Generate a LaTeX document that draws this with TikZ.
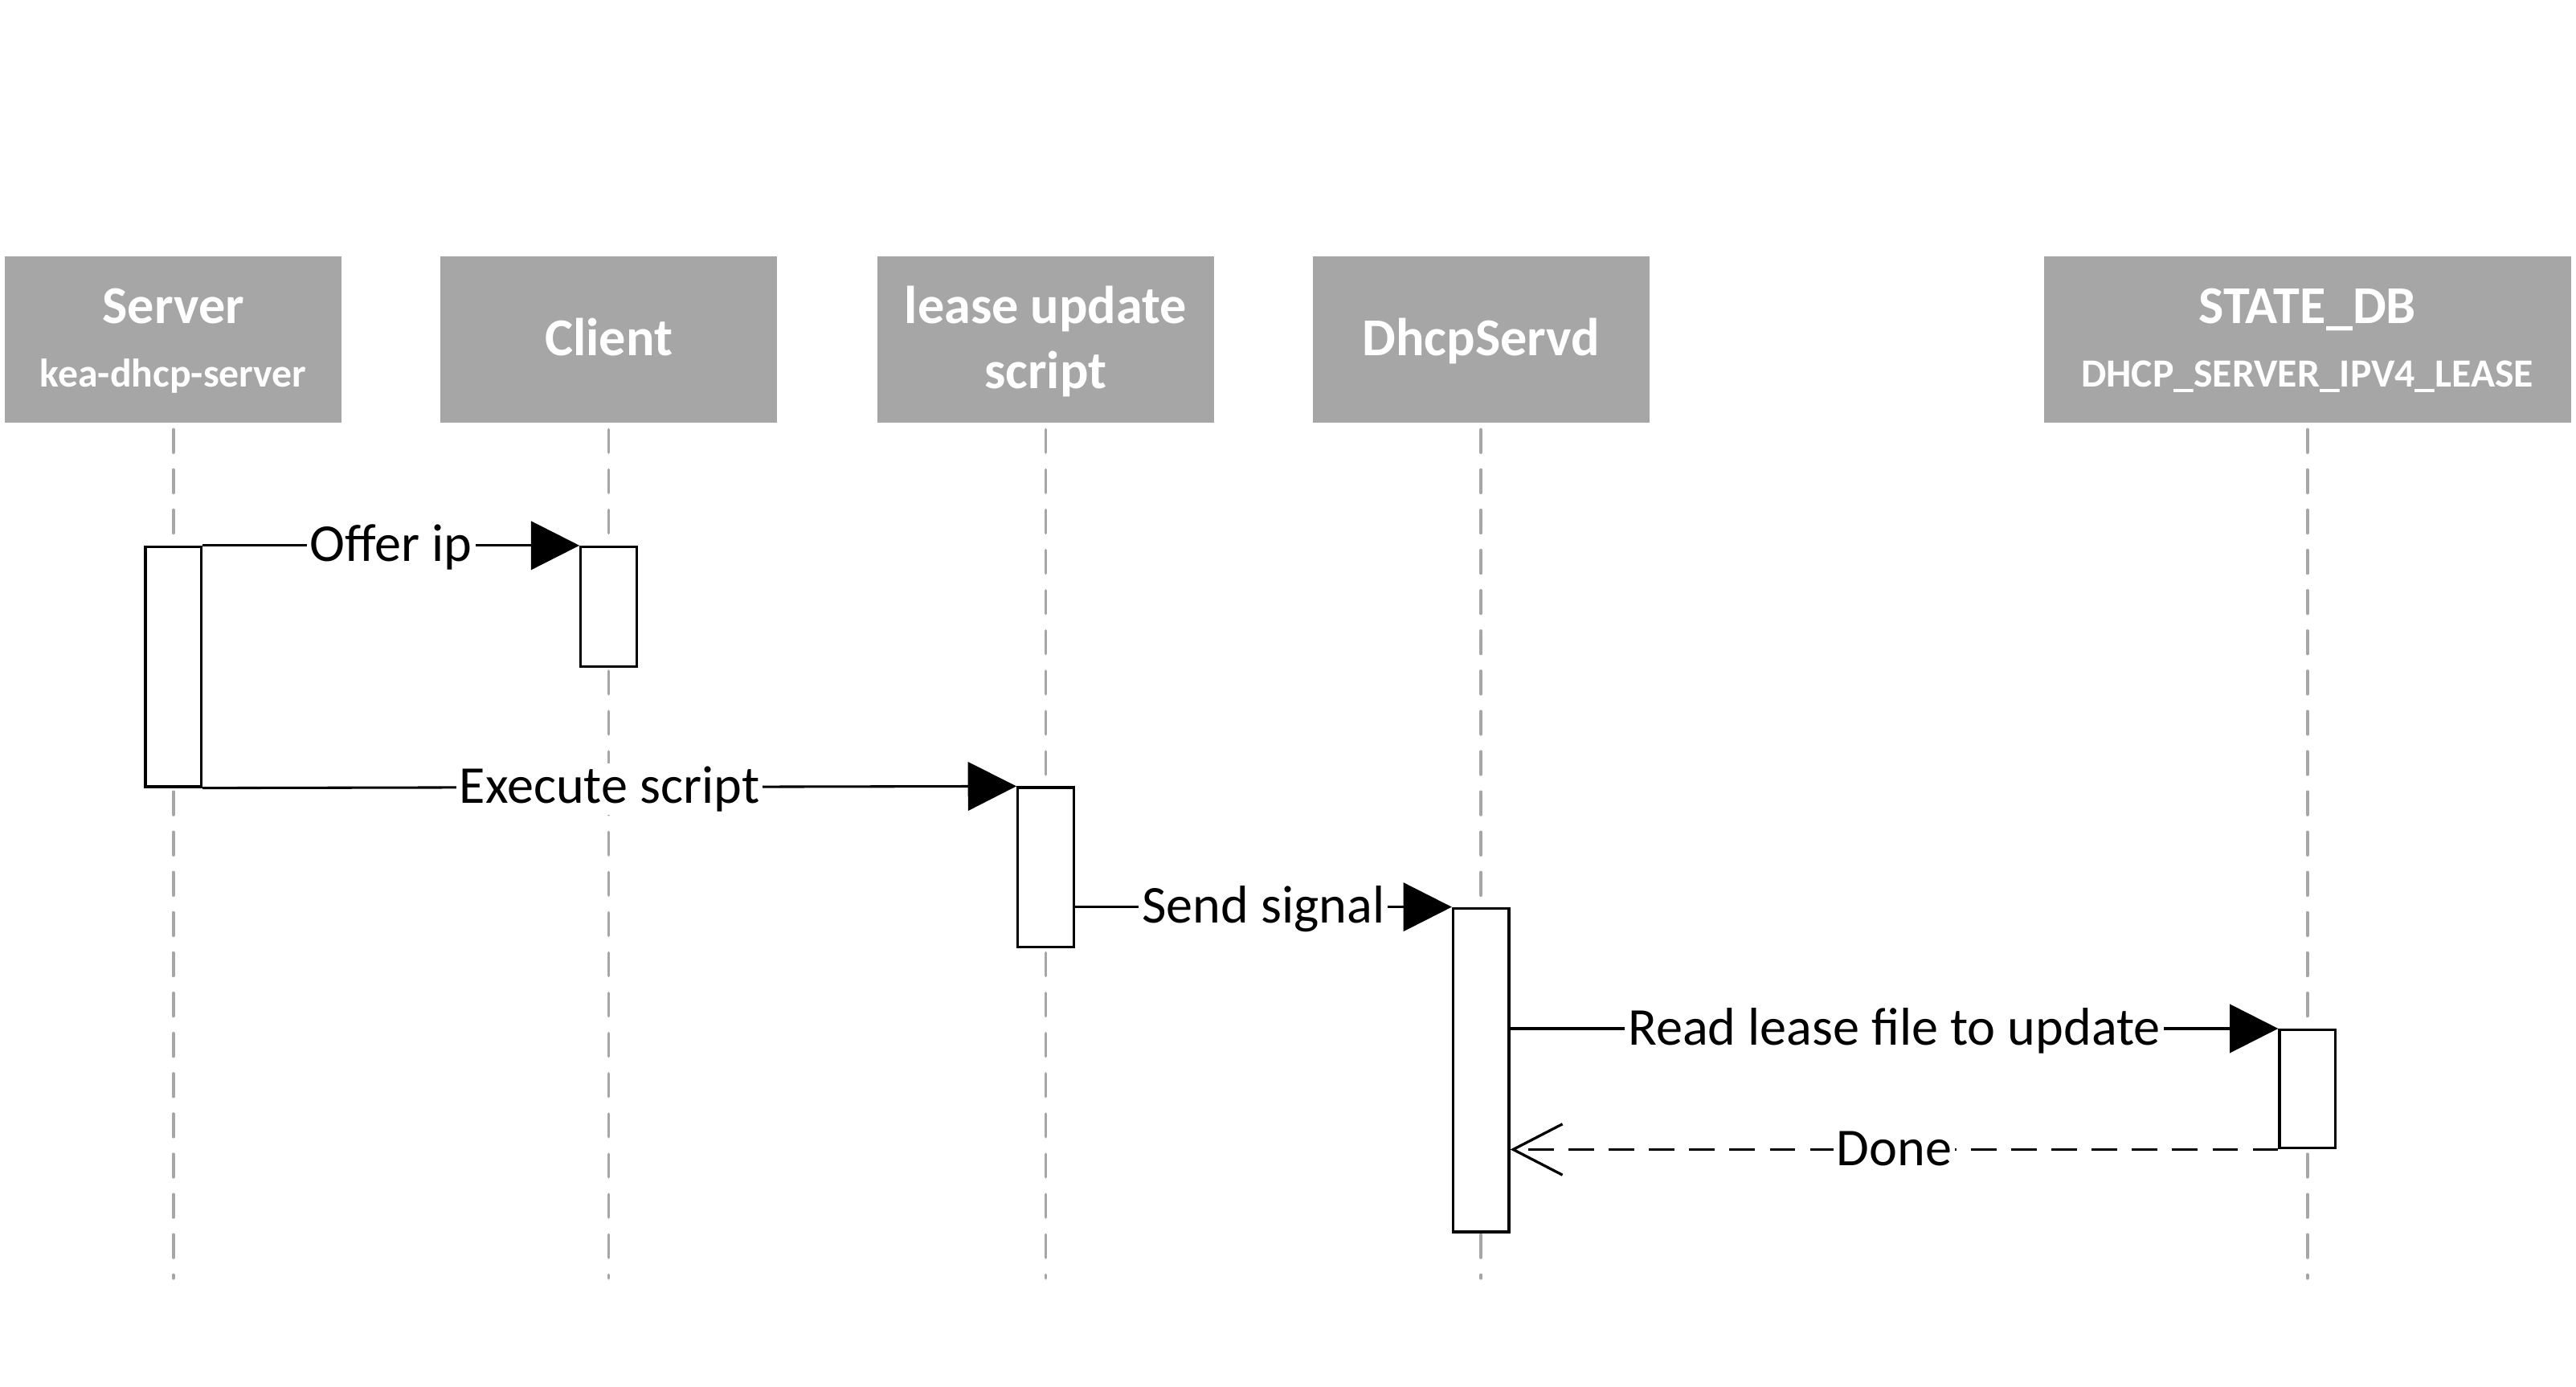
\documentclass[tikz,border=0pt]{standalone}
\usepackage{fontspec}
\setmainfont{Carlito}
\usetikzlibrary{arrows.meta}
\definecolor{hdrgray}{HTML}{A6A6A6}
\begin{document}
\begin{tikzpicture}[x=1pt,y=1pt,
 hdr/.style={fill=hdrgray,draw=none,minimum height=101pt,inner sep=0pt,anchor=north},
 htitle/.style={text=white,font=\fontsize{32.4}{39}\selectfont\bfseries,anchor=base,inner sep=0pt},
 hsub/.style={text=white,font=\fontsize{24.3}{29}\selectfont\bfseries,anchor=base,inner sep=0pt},
 life/.style={draw=hdrgray,line width=1.8pt,line cap=round,dash pattern=on 14pt off 10.5pt},
 act/.style={draw=black,fill=white,line width=1.6pt,minimum width=34pt,inner sep=0pt,anchor=north},
 msg/.style={line width=1.5pt,-{Triangle[length=29.5pt,width=29.5pt]}},
 ret/.style={line width=1.6pt,dash pattern=on 15.5pt off 9pt,-{Straight Barb[length=30pt,width=31pt,line width=1.6pt]}},
 lbl/.style={fill=white,inner sep=2pt,font=\fontsize{32.4}{39}\selectfont,midway,anchor=base,yshift=-9.8pt}
]
\useasboundingbox (0,0) rectangle (1568,-843.7);
% headers
\node[hdr,minimum width=205pt] (srv) at (105.5,-156) {};
\node[hdr,minimum width=205pt] (cli) at (370.5,-156) {};
\node[hdr,minimum width=205pt] (lus) at (636.5,-156) {};
\node[hdr,minimum width=205pt] (dhs) at (901.5,-156) {};
\node[hdr,minimum width=321pt] (sdb) at (1404.5,-156) {};
\node[htitle] (srvt) at (105.5,-197) {Server};
\node[hsub] (srvs) at (105.5,-235.5) {kea-dhcp-server};
\node[htitle] (clit) at (370.5,-216.4) {Client};
\node[htitle] (lust) at (636.5,-197) {lease update};
\node[htitle] (luss) at (636.5,-236.5) {script};
\node[htitle] (dhst) at (901.5,-216.4) {DhcpServd};
\node[htitle] (sdbt) at (1404.5,-197) {STATE\_DB};
\node[hsub] (sdbs) at (1404.5,-235.5) {DHCP\_SERVER\_IPV4\_LEASE};
% lifelines
\coordinate (srvend) at (105.5,-778);
\coordinate (cliend) at (370.5,-778);
\coordinate (lusend) at (636.5,-778);
\coordinate (dhsend) at (901.5,-778);
\coordinate (sdbend) at (1404.5,-778);
\draw[life] ([yshift=-4pt]srv.south) -- (srvend);
\draw[life] ([yshift=-4pt]cli.south) -- (cliend);
\draw[life] ([yshift=-4pt]lus.south) -- (lusend);
\draw[life] ([yshift=-4pt]dhs.south) -- (dhsend);
\draw[life] ([yshift=-4pt]sdb.south) -- (sdbend);
% activations
\node[act,minimum height=146pt] (srvact) at (105.5,-332) {};
\node[act,minimum height=73pt] (cliact) at (370.5,-332) {};
\node[act,minimum height=97pt] (lusact) at (636.5,-478.5) {};
\node[act,minimum height=197pt] (dhsact) at (901.5,-552) {};
\node[act,minimum height=72pt] (sdbact) at (1404.5,-626) {};
% messages
\draw[msg] (srvact.north east) -- node[lbl] {Offer ip} (cliact.north west);
\draw[msg] (srvact.south east) -- node[lbl] {Execute script} (lusact.north west);
\draw[msg] (lusact.east |- dhsact.north) -- node[lbl] {Send signal} (dhsact.north west);
\draw[msg] (dhsact.east |- sdbact.north) -- node[lbl] {Read lease file to update} (sdbact.north west);
\draw[ret] (sdbact.south west) -- node[lbl] {Done} (dhsact.east |- sdbact.south);
\end{tikzpicture}
\end{document}
